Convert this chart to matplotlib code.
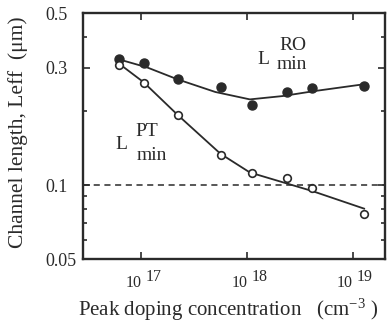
import numpy as np
import matplotlib
matplotlib.use('Agg')
import matplotlib.pyplot as plt
import matplotlib.transforms as mtransforms
from matplotlib.ticker import FixedLocator, NullFormatter

plt.rcParams['font.family'] = ['Liberation Serif', 'DejaVu Serif']
plt.rcParams['mathtext.fontset'] = 'custom'
plt.rcParams['mathtext.rm'] = 'Liberation Serif'
plt.rcParams['mathtext.default'] = 'rm'

# measured points
doping = [6.2e16, 1.05e17, 2.2e17, 5.6e17, 1.1e18, 2.4e18, 4.1e18, 1.27e19]
l_ro = [0.326, 0.313, 0.269, 0.250, 0.212, 0.240, 0.249, 0.253]
l_pt = [0.309, 0.261, 0.193, 0.133, 0.112, 0.107, 0.0975, 0.0766]

# hand-drawn fit lines through the points
ro_fit_x = [6.2e16, 1.13e17, 2.2e17, 5.0e17, 1.06e18, 2.15e18, 4.3e18, 1.27e19]
ro_fit_y = [0.324, 0.301, 0.269, 0.239, 0.223, 0.230, 0.241, 0.257]
pt_fit_x = [6.2e16, 1.05e17, 2.2e17, 5.6e17, 1.06e18, 4.1e18, 1.27e19]
pt_fit_y = [0.311, 0.262, 0.193, 0.134, 0.1125, 0.0946, 0.0802]

y_ticks = [0.05, 0.1, 0.3, 0.5]
y_ticklabels = ['0.05', '0.1', '0.3', '0.5']
x_ticks = [1e17, 1e18, 1e19]
x_exponents = ['17', '18', '19']
limit_line = 0.1

ink = '#2a2a2a'

fig = plt.figure(figsize=(3.88, 3.28), dpi=100)
ax = fig.add_axes([0.214, 0.210, 0.778, 0.750])

ax.plot(ro_fit_x, ro_fit_y, color=ink, lw=1.3)
ax.plot(pt_fit_x, pt_fit_y, color=ink, lw=1.3)
ax.plot(doping, l_ro, 'o', color=ink, ms=6.5, mec=ink)
ax.plot(doping, l_pt, 'o', mfc='white', mec=ink, ms=5.5, mew=1.2)
ax.axhline(limit_line, color=ink, lw=1.1, ls=(0, (4, 3)))

ax.set_xscale('log')
ax.set_yscale('log')
ax.set_xlim(10**16.45, 10**19.3)
ax.set_ylim(0.05, 0.5)

ax.yaxis.set_major_locator(FixedLocator(y_ticks))
ax.set_yticklabels(y_ticklabels)
ax.yaxis.set_minor_locator(FixedLocator([0.06, 0.07, 0.08, 0.09, 0.2, 0.4]))
ax.yaxis.set_minor_formatter(NullFormatter())
ax.xaxis.set_major_locator(FixedLocator(x_ticks))
ax.xaxis.set_major_formatter(NullFormatter())
ax.xaxis.set_minor_locator(FixedLocator([]))

ax.tick_params(which='both', direction='in', top=True, right=True, color=ink,
               labelsize=13, labelcolor=ink, width=1.2)
ax.tick_params(which='major', length=5)
ax.tick_params(which='minor', length=3)
ax.tick_params(axis='y', pad=27)
for lab in ax.get_yticklabels():
    lab.set_horizontalalignment('left')
for s in ax.spines.values():
    s.set_linewidth(1.7)
    s.set_color(ink)

# x tick labels: "10" with a full-size raised exponent
trans = mtransforms.blended_transform_factory(ax.transData, ax.transAxes)
for xv, ex in zip(x_ticks, x_exponents):
    ax.text(xv, -0.115, '10', transform=trans, ha='right', va='baseline',
            fontsize=11.5, color=ink,
            )
    ax.text(xv, -0.09, ex, transform=trans + mtransforms.ScaledTranslation(4 / 100, 0, fig.dpi_scale_trans),
            ha='left', va='baseline', fontsize=11.5, color=ink)

ax.text(-0.215, 0.516, 'Channel length, Leff  (\u03bcm)', transform=ax.transAxes,
        rotation=90, ha='center', va='center', fontsize=15.5, color=ink)
ax.text(0.48, -0.207, 'Peak doping concentration   (cm$^{-3}$ )', transform=ax.transAxes,
        ha='center', va='center', fontsize=15, color=ink)

ax.text(0.576, 0.793, 'L', transform=ax.transAxes, fontsize=14, color=ink, va='baseline')
ax.text(0.649, 0.850, 'RO', transform=ax.transAxes, fontsize=14, color=ink, va='baseline')
ax.text(0.642, 0.772, 'min', transform=ax.transAxes, fontsize=14, color=ink, va='baseline')

ax.text(0.106, 0.447, 'L', transform=ax.transAxes, fontsize=14, color=ink, va='baseline')
ax.text(0.175, 0.500, 'PT', transform=ax.transAxes, fontsize=14, color=ink, va='baseline')
ax.text(0.179, 0.402, 'min', transform=ax.transAxes, fontsize=14, color=ink, va='baseline')

fig.savefig('out.png', dpi=100)
